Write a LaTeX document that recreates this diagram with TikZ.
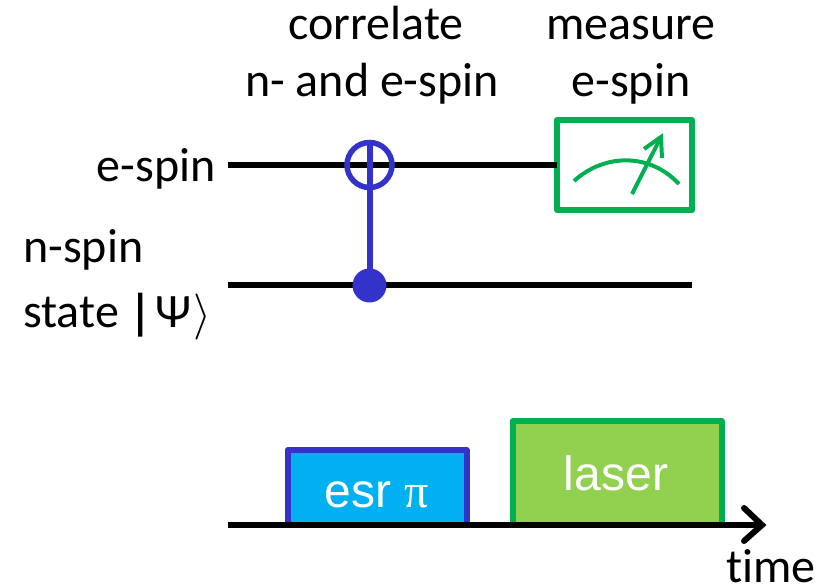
\documentclass[tikz,border=0pt]{standalone}
\usepackage{fontspec}
\usepackage{graphicx}
\setmainfont[Ligatures=NoCommon]{Carlito}
\newfontfamily\arialf{Liberation Sans}
\newfontfamily\timesf{Liberation Serif}
\newfontfamily\boldbar[FakeBold=2.5]{Carlito}
\definecolor{qblue}{HTML}{3333CC}
\definecolor{qgreen}{HTML}{00B050}
\definecolor{skyf}{HTML}{00B0F0}
\definecolor{limef}{HTML}{92D050}
\tikzset{
  lbl/.style={inner sep=0pt,anchor=base,font=\fontsize{48}{48}\selectfont,text=black},
  wire/.style={line width=6pt,black},
  gate/.style={line width=6pt,qblue},
  meter/.style={line width=4pt,qgreen},
  pulse/.style={line width=6pt,line join=round,inner sep=0pt,outer sep=0pt,anchor=north west},
  pulsetext/.style={inner sep=0pt,anchor=base,text=white,font=\arialf\fontsize{48}{48}\selectfont},
}
\begin{document}
\begin{tikzpicture}[x=1pt,y=-1pt]
\useasboundingbox (0,0) rectangle (833,585);
% labels
\node[lbl] (t1) at (376,40) {correlate};
\node[lbl] (t2) at (372,97) {n- and e-spin};
\node[lbl] (t3) at (631,40) {measure};
\node[lbl] (t4) at (631,97) {e-spin};
\node[lbl,anchor=base east] (le) at (216,182) {e-spin};
\node[lbl,anchor=base west] (ln) at (23,263) {n-spin};
\node[lbl,anchor=base west] (ls) at (23,328) {state};
% pulses
\node[pulse,draw=qblue,fill=skyf,minimum width=179pt,minimum height=75pt] (esr) at (287.5,450) {};
\node[pulse,draw=qgreen,fill=limef,minimum width=209pt,minimum height=104pt] (las) at (512.5,421) {};
\node[pulsetext] (esrt) at (377,507) {esr {\timesf π}};
\node[pulsetext] (last) at (616,490) {laser};
% wires
\coordinate (e0) at (228,165);
\coordinate (n0) at (228,285);
\coordinate (n1) at (692,285);
\node[draw=qgreen,line width=6pt,line join=round,outer sep=0pt,minimum width=135pt,minimum height=90pt,inner sep=0pt] (box) at (624.5,165) {};
\draw[wire] (e0) -- (box.west);
\draw[wire] (n0) -- (n1);
% gate
\node[circle,draw=qblue,line width=5.5pt,outer sep=0pt,minimum size=45pt,inner sep=0pt] (tgt) at (369.5,165) {};
\node[circle,fill=qblue,minimum size=34pt,inner sep=0pt,outer sep=0pt] (ctl) at (369.5,285.5) {};
\draw[gate] (tgt.north) -- (ctl.center);
% meter
\coordinate (a0) at (574,181);
\coordinate (a1) at (679,184);
\coordinate (p0) at (632,194);
\coordinate (p1) at (661,137);
\draw[meter] (a0) .. controls (605,153) and (650,153) .. (a1);
\draw[meter] (p0) -- (p1);
\draw[meter] (644,149) -- (p1) -- (662,158);
% time axis
\coordinate (t0) at (228,525);
\coordinate (t9) at (762,525);
\draw[wire] (t0) -- (t9);
\draw[line width=6pt,line cap=round,line join=miter] (744,508) -- (t9) -- (744,541);
\node[lbl] (tm) at (771,582) {time};
% ket
\node[lbl,anchor=base west] (psi) at (129,328) {{\boldbar |}\kern4pt Ψ\kern2pt\raisebox{-1pt}{\scalebox{4.6}{\fontsize{10}{10}\selectfont$\rangle$}}};
\end{tikzpicture}
\end{document}
